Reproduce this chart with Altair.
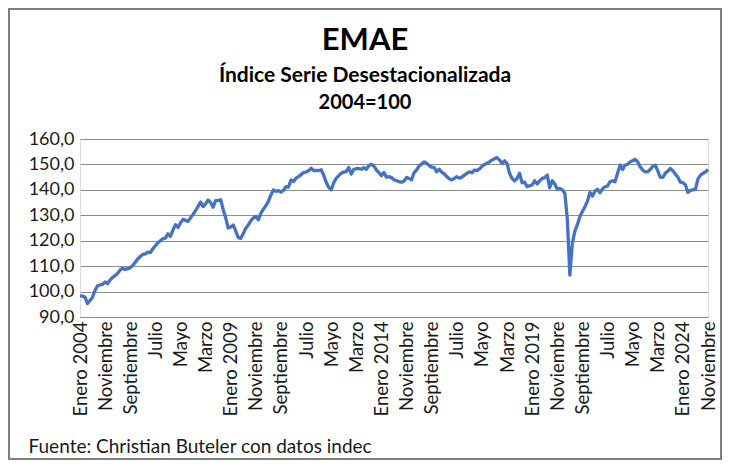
import altair as alt
import pandas as pd

# Monthly EMAE seasonally-adjusted index (2004=100), Jan 2004 .. Nov 2024
VALUES = [
    98.3, 98.2, 97.8, 95.3, 96.5, 97.8, 100.5, 102.3, 102.6, 102.8,   # 2004
    103.8, 103.1, 104.6, 105.6, 106.3, 107.2, 108.5, 109.2, 108.7, 109.0,
    109.3, 110.3, 111.5, 112.8, 113.8, 114.6, 114.8, 115.5, 115.3, 116.8,
    118.0, 119.2, 120.0, 120.8, 121.0, 122.7, 121.7, 124.2, 126.3, 125.2,
    127.0, 128.4, 128.0, 127.6, 129.0, 130.3, 131.8, 133.5, 135.2, 133.4,
    134.5, 136.0, 135.0, 133.2, 135.8, 135.9, 136.1, 132.3, 129.0, 125.0,
    125.4, 126.2, 123.8, 121.2, 120.9, 122.8, 124.9, 126.2, 127.8, 129.0,
    129.6, 128.2, 130.8, 132.4, 133.8, 135.5, 138.0, 140.0, 139.4, 139.7,
    139.1, 139.8, 141.3, 141.1, 143.9, 143.3, 144.6, 145.2, 146.0, 146.8,
    147.0, 147.5, 148.5, 147.6, 147.7, 147.6, 147.9, 145.8, 143.0, 141.0,
    140.0, 142.8, 144.5, 145.6, 146.5, 147.0, 147.2, 148.8, 146.2, 148.1,
    148.3, 148.4, 148.1, 148.7, 148.1, 149.5, 150.1, 149.3, 147.8, 146.8,
    145.6, 146.8, 145.0, 145.2, 144.8, 144.0, 143.6, 143.2, 143.0, 143.4,
    144.9, 144.5, 143.9, 146.8, 147.8, 149.4, 150.2, 151.0, 150.5, 149.5,
    148.9, 148.8, 147.1, 148.1, 147.0, 146.3, 145.2, 144.4, 143.9, 144.5,
    145.2, 144.6, 145.0, 145.8, 146.5, 147.1, 146.7, 147.8, 147.6, 148.2,
    149.2, 150.0, 150.5, 151.0, 151.7, 152.2, 152.7, 151.7, 150.4, 151.4,
    150.4, 146.5, 144.5, 143.5, 144.5, 146.5, 142.8, 143.0, 141.3, 141.6,
    141.9, 143.6, 142.3, 143.6, 144.5, 144.8, 145.8, 140.8, 143.6, 142.3,
    140.2, 140.6, 140.0, 138.7, 128.5, 106.5, 119.0, 123.8, 126.3, 129.5,
    131.5, 133.4, 135.5, 139.0, 137.5, 139.5, 140.2, 138.9, 140.4, 141.2,
    141.5, 143.2, 143.6, 143.2, 146.5, 149.7, 148.0, 149.7, 150.1, 151.0,
    151.5, 152.0, 151.0, 149.1, 147.8, 147.1, 147.1, 148.0, 149.3, 149.7,
    147.5, 145.0, 144.9, 146.5, 147.4, 148.4, 147.5, 146.2, 145.0, 143.0,
    142.8, 142.0, 139.0, 139.8, 140.0, 140.2, 144.3, 145.8, 146.5, 147.0,
    148.0,
]

TICK_LABELS = [
    "Enero 2004", "Noviembre", "Septiembre", "Julio", "Mayo", "Marzo",
    "Enero 2009", "Noviembre", "Septiembre", "Julio", "Mayo", "Marzo",
    "Enero 2014", "Noviembre", "Septiembre", "Julio", "Mayo", "Marzo",
    "Enero 2019", "Noviembre", "Septiembre", "Julio", "Mayo", "Marzo",
    "Enero 2024", "Noviembre",
]
TICK_STEP = 10
Y_TICKS = [90, 100, 110, 120, 130, 140, 150, 160]

TITLE = "EMAE"
SUBTITLE_1 = "Índice Serie Desestacionalizada"
SUBTITLE_2 = "2004=100"
SOURCE = "Fuente: Christian Buteler con datos indec"

FONT = "Lato"
W, H = 628, 178
CX = 285  # horizontal centre of the whole chart, in view pixels

df = pd.DataFrame({"i": list(range(len(VALUES))), "v": VALUES})
tick_values = [k * TICK_STEP for k in range(len(TICK_LABELS))]
label_js = "[" + ",".join("'" + t + "'" for t in TICK_LABELS) + "]"

line = alt.Chart(df).mark_line(color="#4472C4", strokeWidth=3.3, strokeJoin="round").encode(
    x=alt.X(
        "i:Q",
        scale=alt.Scale(domain=[0, len(VALUES) - 1], nice=False, zero=False),
        axis=alt.Axis(
            values=tick_values,
            labelExpr=label_js + "[round(datum.value/" + str(TICK_STEP) + ")]",
            labelAngle=-90,
            labelAlign="right",
            labelBaseline="middle",
            labelPadding=4,
            labelFontSize=18.5,
            labelFont=FONT,
            labelColor="#1a1a1a",
            ticks=False,
            grid=False,
            domain=True,
            domainColor="#8c8c8c",
            domainWidth=1,
            labelOverlap=False,
            labelBound=False,
            title=SOURCE,
            titleFont=FONT,
            titleFontSize=19,
            titleFontWeight="normal",
            titleColor="#1a1a1a",
            titleAlign="left",
            titleBaseline="middle",
            titleAnchor="start",
            titleX=-52,
            titleY=129,
        ),
    ),
    y=alt.Y(
        "v:Q",
        scale=alt.Scale(domain=[90, 160], nice=False, zero=False),
        axis=alt.Axis(
            values=Y_TICKS,
            labelExpr="replace(format(datum.value, '.1f'), '.', ',')",
            labelFontSize=18,
            labelFont=FONT,
            labelColor="#1a1a1a",
            labelPadding=6,
            ticks=False,
            domain=False,
            grid=True,
            gridColor="#8c8c8c",
            gridWidth=1,
            title=None,
        ),
    ),
)

one = pd.DataFrame({"k": [0]})
border = alt.Chart(one).mark_rect(fill=None, stroke="#7f7f7f", strokeWidth=2).encode(
    x=alt.value(-71), x2=alt.value(W + 13), y=alt.value(-130), y2=alt.value(H + 142)
)

t_main = alt.Chart(one).mark_text(
    text=TITLE, font=FONT, fontSize=31, fontWeight="bold", color="#000000",
    align="center", baseline="alphabetic",
).encode(x=alt.value(CX), y=alt.value(-89))

t_sub1 = alt.Chart(one).mark_text(
    text=SUBTITLE_1, font=FONT, fontSize=21, fontWeight="bold", color="#000000",
    align="center", baseline="alphabetic",
).encode(x=alt.value(CX), y=alt.value(-57))

t_sub2 = alt.Chart(one).mark_text(
    text=SUBTITLE_2, font=FONT, fontSize=20, fontWeight="bold", color="#000000",
    align="center", baseline="alphabetic",
).encode(x=alt.value(CX), y=alt.value(-30))

chart = alt.layer(border, line, t_main, t_sub1, t_sub2).properties(
    width=W,
    height=H,
    padding={"left": 72, "top": 131, "right": 14, "bottom": 143},
    autosize=alt.AutoSizeParams(type="none"),
).configure_view(stroke=None).configure(background="white")

chart.save("out.html", embed_options={"renderer": "svg", "actions": False})
